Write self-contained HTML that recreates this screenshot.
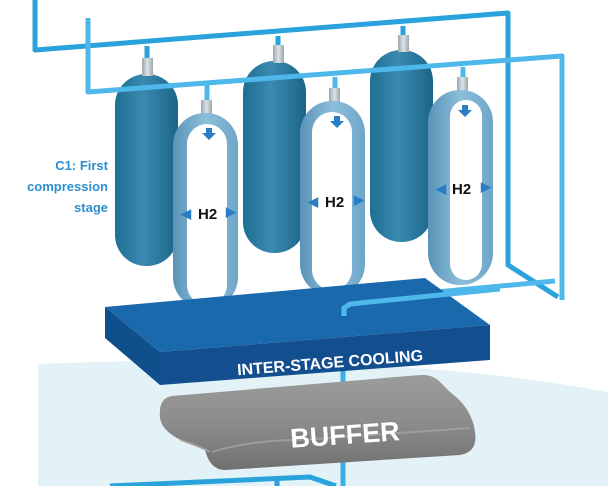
<!DOCTYPE html>
<html><head><style>
html,body{margin:0;padding:0;background:#fff;}
svg{display:block;}
text{font-family:"Liberation Sans",sans-serif;font-weight:bold;}
</style></head><body>
<svg width="608" height="486" viewBox="0 0 608 486" xmlns="http://www.w3.org/2000/svg">
<defs>
<linearGradient id="tank" x1="0" x2="1">
<stop offset="0" stop-color="#1f6f93"/><stop offset="0.45" stop-color="#3a8ab1"/><stop offset="1" stop-color="#1c6488"/>
</linearGradient>
<linearGradient id="utank" x1="0" x2="1">
<stop offset="0" stop-color="#5a93b8"/><stop offset="0.5" stop-color="#8cbedb"/><stop offset="1" stop-color="#6ea6c8"/>
</linearGradient>
<linearGradient id="gray" x1="0" y1="0" x2="0" y2="1">
<stop offset="0" stop-color="#9c9c9c"/><stop offset="0.5" stop-color="#8c8c8c"/><stop offset="1" stop-color="#707070"/>
</linearGradient>
<linearGradient id="cap" x1="0" x2="1">
<stop offset="0" stop-color="#9ba7ad"/><stop offset="0.5" stop-color="#dde3e6"/><stop offset="1" stop-color="#9ba7ad"/>
</linearGradient>
</defs>
<path d="M38 364 Q380 350 608 392 L608 486 L38 486 Z" fill="#e3f2f6"/>
<g fill="none" stroke-linejoin="round" stroke-width="5">
<path d="M35 0 L35 50 L508 13 L508 265 L558 297" stroke="#2aa3dc"/>
<path d="M147 46 L147 60 M278 36 L278 46 M403 26 L403 37" stroke="#2aa3dc"/>
<path d="M343 370 L343 398 M343 462 L343 486" stroke="#3aaee6"/>
<path d="M110 486 L310 477 L336 486 M277 480 L277 486" stroke="#2aa3dc"/>
</g>
<g fill="url(#tank)">
<rect x="115" y="74" width="63" height="192" rx="31"/>
<rect x="243" y="61" width="63" height="192" rx="31"/>
<rect x="370" y="50" width="63" height="192" rx="31"/>
</g>
<g fill="url(#cap)">
<rect x="142" y="58" width="11" height="18"/>
<rect x="273" y="45" width="11" height="18"/>
<rect x="398" y="35" width="11" height="17"/>
</g>
<g fill="none" stroke-linejoin="round" stroke-width="5" stroke="#4fb8ea">
<path d="M88 18 L88 92 L562 56 L562 300"/>
<path d="M555 281 L350 300 L344 304 L344 316"/>
<path d="M207 85 L207 100 M335 77 L335 88 M463 67 L463 78"/>
</g>
<g fill="url(#cap)">
<rect x="201" y="100" width="11" height="16"/>
<rect x="329" y="88" width="11" height="16"/>
<rect x="457" y="77" width="11" height="16"/>
</g>
<g fill="url(#utank)">
<rect x="173" y="113" width="65" height="196" rx="32"/>
<rect x="300" y="101" width="65" height="195" rx="32"/>
<rect x="428" y="90" width="65" height="195" rx="32"/>
</g>
<g fill="#fff">
<rect x="187" y="124" width="40" height="181" rx="20"/>
<rect x="312" y="112" width="40" height="178" rx="20"/>
<rect x="450" y="100" width="32" height="180" rx="16"/>
</g>
<g fill="#2a7dc4">
<path d="M206 128 h6 v5 h4 l-7 7 l-7 -7 h4z"/>
<path d="M334 116 h6 v5 h4 l-7 7 l-7 -7 h4z"/>
<path d="M462 105 h6 v5 h4 l-7 7 l-7 -7 h4z"/>
</g>
<g font-size="15" fill="#111">
<text x="198" y="219">H2</text>
<text x="325" y="207">H2</text>
<text x="452" y="194">H2</text>
</g>
<g fill="#2a7dc4" font-size="13">
<text x="181" y="218">◀</text><text x="226" y="216">▶</text>
<text x="308" y="206">◀</text><text x="354" y="204">▶</text>
<text x="436" y="193">◀</text><text x="481" y="191">▶</text>
</g>
<g fill="#2c8fcf" font-size="13" text-anchor="end">
<text x="108" y="170">C1: First</text>
<text x="108" y="191">compression</text>
<text x="108" y="212">stage</text>
</g>
<polygon points="105,307 425,278 490,325 160,352" fill="#1b69ad"/>
<polygon points="105,307 160,352 160,385 105,338" fill="#0f4f8c"/>
<polygon points="160,352 490,325 490,360 160,385" fill="#134f8f"/>
<path d="M344 316 L344 308 L350 304 L500 289" fill="none" stroke="#4fb8ea" stroke-width="5"/>
<text x="330" y="368" fill="#fff" font-size="16" text-anchor="middle" transform="rotate(-4.5 330 362)">INTER-STAGE COOLING</text>
<path d="M172 396 Q158 398 160 418 Q162 432 185 442 L205 450 Q210 470 225 470 L460 455 Q478 452 475 432 Q472 408 450 392 L438 380 Q430 374 420 375 Z" fill="url(#gray)"/>
<path d="M180 440 Q200 446 210 452 M212 452 Q250 440 300 440 L470 428" stroke="#a8a8a8" stroke-width="2" fill="none" opacity="0.7"/>
<text x="345" y="444" fill="#fff" font-size="27" text-anchor="middle" transform="rotate(-4 345 435)">BUFFER</text>
</svg>
</body></html>
